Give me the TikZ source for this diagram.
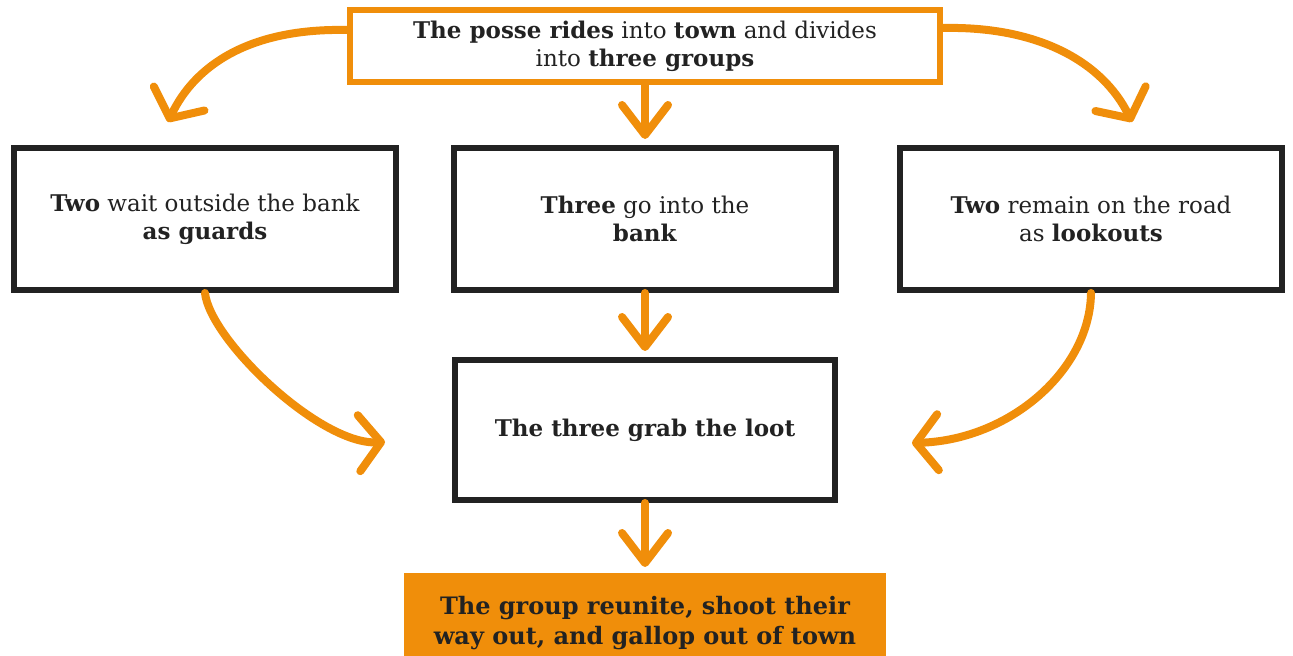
\documentclass[tikz,border=0pt]{standalone}
\usepackage{fontspec}
\setmainfont{DejaVu Serif}
\usepackage{xcolor}
\usetikzlibrary{positioning, arrows.meta}
\definecolor{posse}{RGB}{240,142,10}
\definecolor{ink}{RGB}{34,34,34}

\begin{document}
\begin{tikzpicture}[x=0.5pt, y=-0.5pt,
  every node/.style={font=\fontsize{11.5}{14}\selectfont, text=ink, align=center},
  caja/.style={draw=ink, line width=3pt, minimum width=191pt, minimum height=71pt},
  flecha/.style={draw=posse, line width=4pt, line cap=round, -{Straight Barb[length=15pt, width=23pt, round]}},
  curva/.style={flecha, -{Straight Barb[length=11pt, width=28pt, round]}}]
\useasboundingbox (0,0) rectangle (1293,656);
% Cajas
\node[draw=posse, line width=3pt, minimum width=295pt, minimum height=36pt] (posse) at (645,46) {\textbf{The posse rides} into \textbf{town} and divides\\into \textbf{three groups}};
\node[caja, below=30pt of posse] (bank) {\textbf{Three} go into the\\\textbf{bank}};
\node[caja, left=26pt of bank] (guards) {\textbf{Two} wait outside the bank\\\textbf{as guards}};
\node[caja, right=29pt of bank] (lookouts) {\textbf{Two} remain on the road\\as \textbf{lookouts}};
\node[caja, minimum width=190pt, minimum height=70pt, below=32pt of bank] (loot) {\textbf{The three grab the loot}};
\node[fill=posse, minimum width=241pt, minimum height=50pt, below=35pt of loot, font=\fontsize{12}{15}\selectfont\bfseries] (escape) {The group reunite, shoot their\\way out, and gallop out of town};

% Puntas libres
\coordinate (g-in) at (168,122);
\coordinate (l-in) at (1132,122);
\coordinate (loot-w) at (385,442);
\coordinate (loot-e) at (912,443);

% Flechas
\draw[flecha, shorten >=3pt] (posse) -- (bank);
\draw[flecha, shorten >=3pt] (bank) -- (loot);
\draw[flecha, shorten >=3pt] (loot) -- (escape);
\draw[curva] ([yshift=8pt]posse.west) .. controls (250,28) and (195,65) .. (g-in);
\draw[curva] ([yshift=9pt]posse.east) .. controls (1040,26) and (1103,63) .. (l-in);
\draw[curva] (guards.south) .. controls (210,340) and (320,445) .. (loot-w);
\draw[curva] (lookouts.south) .. controls (1090,370) and (1010,440) .. (loot-e);
\end{tikzpicture}
\end{document}
